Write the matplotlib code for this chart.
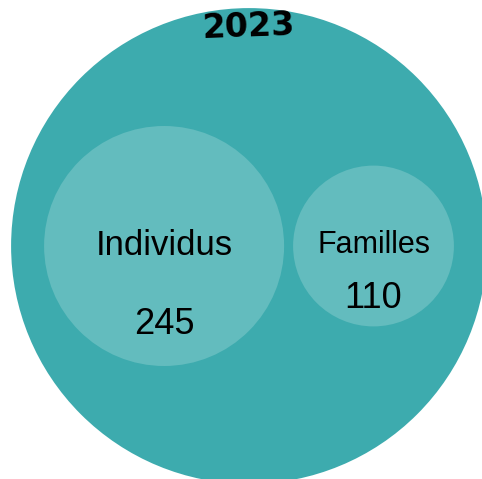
import numpy as np
import matplotlib.pyplot as plt
from matplotlib.patches import Circle

# Data
title = "2023"
categories = ["Individus", "Familles"]
values = [245, 110]

outer_color = "#3DABAE"
inner_color = "#63BCBE"

W, H = 482, 479
fig = plt.figure(figsize=(W / 100, H / 100), dpi=100)
ax = fig.add_axes([0, 0, 1, 1])
ax.set_xlim(0, W)
ax.set_ylim(H, 0)
ax.set_aspect("equal")
ax.axis("off")

# Pack layout: circles side by side, area proportional to value
scale = 120 / np.sqrt(values[0])
radii = [scale * np.sqrt(v) for v in values]
gap = 9
pad = 33
outer_r = (2 * sum(radii) + gap) / 2 + pad
cx, cy = 249, 246

ax.add_patch(Circle((cx, cy), outer_r, color=outer_color, lw=0))

left = cx - (2 * sum(radii) + gap) / 2
centers = []
x = left
for r in radii:
    centers.append(x + r)
    x += 2 * r + gap

label_sizes = [25, 22]
value_sizes = [26, 26]
value_offsets = [80, 53]
for c, r, cat, v, ls, vs, off in zip(centers, radii, categories, values,
                                      label_sizes, value_sizes, value_offsets):
    ax.add_patch(Circle((c, cy), r, color=inner_color, lw=0))
    ax.text(c, cy - 1, cat, ha="center", va="center", fontsize=ls,
            family="Liberation Sans", color="black")
    ax.text(c, cy - 1 + off, str(v), ha="center", va="center", fontsize=vs,
            family="Liberation Sans", color="black")

ax.text(cx - 1, 27, title, ha="center", va="center", fontsize=24,
        fontweight="bold", family="DejaVu Sans", rotation=2, color="black")

fig.savefig("out.png", dpi=100)
